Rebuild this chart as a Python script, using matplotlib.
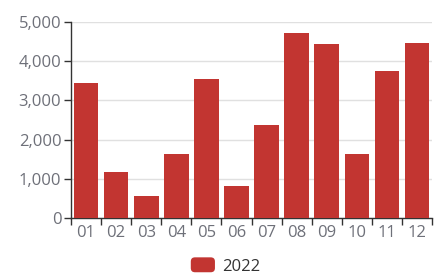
import matplotlib.pyplot as plt
from matplotlib.ticker import FuncFormatter, FixedLocator
from matplotlib.patches import FancyBboxPatch, Rectangle
from matplotlib.legend_handler import HandlerPatch

months = ["01", "02", "03", "04", "05", "06", "07", "08", "09", "10", "11", "12"]
values_2022 = [3440, 1170, 560, 1630, 3550, 820, 2370, 4730, 4430, 1640, 3760, 4470]
series_name = "2022"

plt.rcParams['font.family'] = ['Open Sans', 'DejaVu Sans']


class RoundHandler(HandlerPatch):
    # rounded legend swatch like echarts
    def create_artists(self, legend, orig_handle, xdescent, ydescent,
                       width, height, fontsize, trans):
        p = FancyBboxPatch((-xdescent, -ydescent), width, height,
                           boxstyle="round,pad=0,rounding_size=3",
                           facecolor=orig_handle.get_facecolor(),
                           edgecolor='none', transform=trans)
        return [p]


fig = plt.figure(figsize=(4.34, 2.77), dpi=100)
ax = fig.add_axes([0.1636, 0.213, 0.832, 0.7076])

x = range(len(months))
ax.bar(x, values_2022, width=0.82, color='#c23531', zorder=3)

ax.set_xlim(-0.5, len(months) - 0.5)
ax.set_ylim(0, 5000)
ax.set_yticks([0, 1000, 2000, 3000, 4000, 5000])
ax.yaxis.set_major_formatter(FuncFormatter(lambda v, p: f"{int(v):,}"))
ax.set_xticks(list(x))
ax.set_xticklabels(months)
ax.tick_params(axis='x', length=0, pad=5, labelsize=12, labelcolor='#6e7079')
ax.xaxis.set_minor_locator(FixedLocator([i - 0.5 for i in range(len(months) + 1)]))
ax.tick_params(axis='x', which='minor', length=5, color='#333333', width=1)
ax.tick_params(axis='y', length=5, color='#333333', width=1, labelsize=12,
               labelcolor='#6e7079', pad=2)

ax.grid(axis='y', color='#e0e0e0', linewidth=1, zorder=0)
for side in ['top', 'right']:
    ax.spines[side].set_visible(False)
for side in ['left', 'bottom']:
    ax.spines[side].set_color('#333333')
    ax.spines[side].set_linewidth(1)

swatch = Rectangle((0, 0), 1, 1, facecolor='#c23531')
leg = fig.legend([swatch], [series_name], loc='center', bbox_to_anchor=(0.52, 0.04),
                 frameon=False, handlelength=1.45, handleheight=1.0, handletextpad=0.45,
                 borderpad=0, prop={'size': 12},
                 handler_map={Rectangle: RoundHandler()})
for t in leg.get_texts():
    t.set_color('#333333')

fig.savefig('out.png', dpi=100)
